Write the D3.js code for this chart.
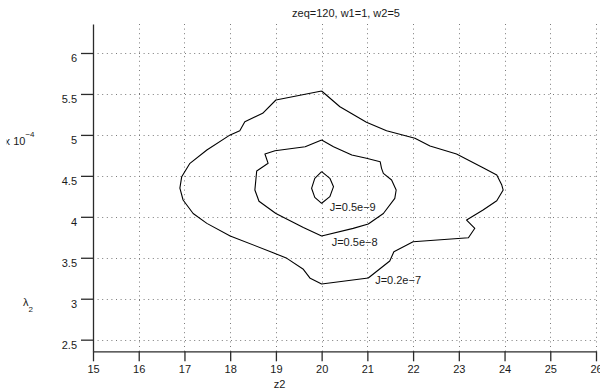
<!DOCTYPE html>
<html>
<head>
<meta charset="utf-8">
<script src="https://cdn.jsdelivr.net/npm/d3@7/dist/d3.min.js"></script>
<style>
  html, body { margin: 0; padding: 0; background: #fff; }
  svg { display: block; }
  text { font-family: "Liberation Sans", Arial, Helvetica, sans-serif; fill: #1a1a1a; }
</style>
</head>
<body>
<svg id="chart" width="600" height="392"></svg>
<script>
// Axis limits and ticks (lambda2 is shown in units of 1e-4)
const xLimits = [15, 26];
const yLimits = [2.358, 6.354];
const xTicks = [15, 16, 17, 18, 19, 20, 21, 22, 23, 24, 25, 26];
const yTicks = [2.5, 3, 3.5, 4, 4.5, 5, 5.5, 6];

const titleText = "zeq=120, w1=1, w2=5";
const xLabelText = "z2";

// Contour levels of J, each as a closed [z2, lambda2] polyline
const levelLabels = ["J=0.2e\u22127", "J=0.5e\u22128", "J=0.5e\u22129"];
const labelAnchors = [[21.17, 3.228], [20.22, 3.696], [20.18, 4.123]];

const contourJ2e7 = [
  [20.0, 5.536], [20.4, 5.344], [20.98, 5.154], [21.42, 5.051], [22.04, 4.958],
  [22.37, 4.864], [22.95, 4.767], [23.53, 4.60], [23.83, 4.51], [23.94, 4.388],
  [23.97, 4.327], [23.83, 4.197], [23.53, 4.083], [23.17, 3.96], [23.35, 3.86],
  [23.21, 3.745], [22.0, 3.696], [21.58, 3.574], [21.49, 3.46], [21.02, 3.253],
  [20.0, 3.18], [19.75, 3.249], [19.6, 3.359], [19.24, 3.493], [18.94, 3.562],
  [18.0, 3.766], [17.49, 3.92], [17.19, 4.04], [16.97, 4.205], [16.9, 4.35],
  [16.94, 4.49], [17.12, 4.653], [17.49, 4.816], [18.0, 5.0], [18.21, 5.051],
  [18.32, 5.161], [18.71, 5.264], [19.0, 5.426], [20.0, 5.536]
];
const contourJ5e8 = [
  [20.0, 4.938], [20.26, 4.856], [20.66, 4.755], [20.98, 4.714], [21.28, 4.673],
  [21.31, 4.592], [21.35, 4.531], [21.53, 4.45], [21.63, 4.327], [21.6, 4.226],
  [21.35, 4.04], [21.02, 3.912], [20.69, 3.859], [20.0, 3.766], [19.6, 3.87],
  [19.0, 4.04], [18.63, 4.19], [18.54, 4.327], [18.58, 4.56], [18.83, 4.653],
  [18.76, 4.767], [18.98, 4.807], [19.64, 4.856], [20.0, 4.938]
];
const contourJ5e9 = [
  [20.0, 4.551], [20.18, 4.47], [20.26, 4.368], [20.18, 4.246], [20.0, 4.165],
  [19.85, 4.238], [19.78, 4.348], [19.85, 4.47], [20.0, 4.551]
];
const contours = [contourJ2e7, contourJ5e8, contourJ5e9];

const svg = d3.select("#chart");
const plot = { left: 93, right: 596, top: 24, bottom: 351.3 };

const x = d3.scaleLinear().domain(xLimits).range([plot.left, plot.right]);
const y = d3.scaleLinear().domain(yLimits).range([plot.bottom, plot.top]);

// Dotted grid
const grid = svg.append("g").attr("stroke", "#7a7a7a").attr("stroke-width", 1)
  .attr("stroke-dasharray", "1,3.6").attr("fill", "none");
grid.selectAll("line.v").data(xTicks.filter(d => d !== xLimits[0])).join("line")
  .attr("class", "v")
  .attr("x1", d => Math.round(x(d)) + 0.5).attr("x2", d => Math.round(x(d)) + 0.5)
  .attr("y1", plot.top).attr("y2", plot.bottom);
grid.selectAll("line.h").data(yTicks).join("line")
  .attr("class", "h")
  .attr("y1", d => Math.round(y(d)) + 0.5).attr("y2", d => Math.round(y(d)) + 0.5)
  .attr("x1", plot.left).attr("x2", plot.right);

// Axes
const fmt = d => String(d);
const xAxis = svg.append("g").attr("transform", `translate(0,${plot.bottom})`)
  .call(d3.axisBottom(x).tickValues(xTicks).tickFormat(fmt).tickSize(10).tickSizeOuter(0));
const yAxis = svg.append("g").attr("transform", `translate(${plot.left},0)`)
  .call(d3.axisLeft(y).tickValues(yTicks).tickFormat(fmt).tickSize(12).tickSizeOuter(0).tickPadding(4));

[xAxis, yAxis].forEach(g => {
  g.selectAll(".domain, .tick line").attr("stroke", "#2b2b2b").attr("stroke-width", 1.3);
  g.selectAll("text").attr("font-size", 11).attr("fill", "#1a1a1a")
    .attr("font-family", "Liberation Sans, Arial, sans-serif");
});
xAxis.selectAll("text").attr("y", 22).attr("dy", 0);
yAxis.selectAll("text").attr("y", 8.5).attr("dy", 0);

// Contour lines
const line = d3.line().x(d => x(d[0])).y(d => y(d[1]));
svg.append("g").selectAll("path").data(contours).join("path")
  .attr("d", line).attr("fill", "none").attr("stroke", "#000")
  .attr("stroke-width", 1.1).attr("stroke-linejoin", "round");

// Contour level labels
svg.append("g").selectAll("text").data(levelLabels).join("text")
  .attr("x", (d, i) => x(labelAnchors[i][0]))
  .attr("y", (d, i) => y(labelAnchors[i][1]))
  .attr("dy", "0.36em").attr("font-size", 11).text(d => d);

// Title and axis labels
svg.append("text").attr("x", 346).attr("y", 17).attr("text-anchor", "middle")
  .attr("font-size", 11).text(titleText);
svg.append("text").attr("x", 279.5).attr("y", 388).attr("text-anchor", "middle")
  .attr("font-size", 11).text(xLabelText);

const yl = svg.append("text").attr("x", 23).attr("y", 306).attr("font-size", 11);
yl.append("tspan").text("\u03bb");
yl.append("tspan").attr("font-size", 8).attr("dy", 6).text("2");

// Exponent multiplier for the lambda axis, cut at the figure edge
svg.append("clipPath").attr("id", "expClip")
  .append("rect").attr("x", 6.6).attr("y", 120).attr("width", 60).attr("height", 40);
const ex = svg.append("text").attr("clip-path", "url(#expClip)")
  .attr("x", 4.6).attr("y", 145).attr("font-size", 11);
ex.append("tspan").text("x 10");
ex.append("tspan").attr("font-size", 8).attr("dy", -8).text("\u22124");
</script>
</body>
</html>
